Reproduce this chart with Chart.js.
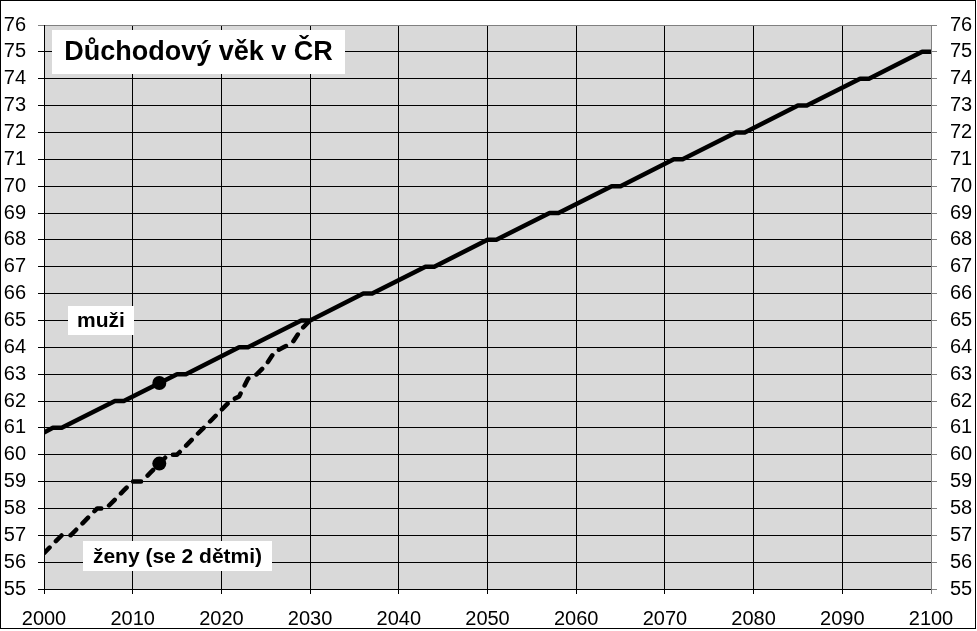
<!DOCTYPE html>
<html lang="cs">
<head>
<meta charset="UTF-8">
<title>Důchodový věk v ČR</title>
<script src="https://cdn.jsdelivr.net/npm/chart.js"></script>
<style>
  html, body { margin: 0; padding: 0; background: #fff; }
  #wrap { width: 977px; height: 631px; }
</style>
</head>
<body>
<div id="wrap"><canvas id="myChart" width="977" height="631"></canvas></div>
<script>
// muži - zlomové body (schody po 2 měsících, každý 7. rok beze změny)
const menYears = [2000, 2001, 2002, 2008, 2009, 2015, 2016, 2022, 2023, 2029, 2030,
                  2036, 2037, 2043, 2044, 2050, 2051, 2057, 2058, 2064, 2065,
                  2071, 2072, 2078, 2079, 2085, 2086, 2092, 2093, 2099, 2100];
const menAge = [60.83, 61, 61, 62, 62, 63, 63, 64, 64, 65, 65,
                66, 66, 67, 67, 68, 68, 69, 69, 70, 70,
                71, 71, 72, 72, 73, 73, 74, 74, 75, 75];

// ženy se 2 dětmi
const womenYears = [2000, 2001, 2002, 2003, 2004, 2005, 2006, 2007, 2008, 2009,
                    2010, 2011, 2012, 2013, 2014, 2015, 2016, 2017, 2018, 2019,
                    2020, 2021, 2022, 2023, 2024, 2025, 2026, 2027, 2028, 2029, 2030];
const womenAge = [56.33, 56.67, 57, 57, 57.33, 57.67, 58, 58, 58.33, 58.67,
                  59, 59, 59.33, 59.67, 60, 60, 60.33, 60.67, 61, 61.33,
                  61.67, 62, 62.17, 62.83, 63, 63.33, 63.83, 64, 64.17, 64.67, 65];

// rok 2013 - vyznačené body
const markerYears = [2013, 2013];
const markerAge = [62.67, 59.67];

const yearMin = 2000, yearMax = 2100, yearStep = 10;
const ageMin = 55, ageMax = 76;

const labelBoxes = [
  { text: 'Důchodový věk v ČR', dx: 8, dy: 5, w: 293, h: 44, size: 27 },
  { text: 'muži', dx: 24, dy: 281, w: 66, h: 29, size: 21 },
  { text: 'ženy (se 2 dětmi)', dx: 39, dy: 516, w: 189, h: 30, size: 21 }
];

const font = "'Liberation Sans', Arial, sans-serif";

const pozadi = {
  id: 'pozadi',
  beforeDraw(chart) {
    const { ctx, chartArea: a } = chart;
    ctx.save();
    ctx.fillStyle = '#fff';
    ctx.fillRect(0, 0, chart.width, chart.height);
    ctx.fillStyle = '#d9d9d9';
    ctx.fillRect(a.left, a.top, a.right - a.left, a.bottom - a.top);
    ctx.restore();
  },
  afterDraw(chart) {
    const { ctx, chartArea: a } = chart;
    ctx.save();
    labelBoxes.forEach(b => {
      const x = a.left + b.dx, y = a.top + b.dy;
      ctx.fillStyle = '#fff';
      ctx.fillRect(x, y, b.w, b.h);
      ctx.fillStyle = '#000';
      ctx.font = 'bold ' + b.size + 'px ' + font;
      ctx.textAlign = 'center';
      ctx.textBaseline = 'middle';
      ctx.fillText(b.text, x + b.w / 2, y + b.h / 2 + 1);
    });
    ctx.strokeStyle = '#000';
    ctx.lineWidth = 1;
    ctx.strokeRect(0.5, 0.5, 975, 628);
    ctx.restore();
  }
};

const ctx = document.getElementById('myChart').getContext('2d');
const myChart = new Chart(ctx, {
  type: 'line',
  data: {
    datasets: [
      {
        label: 'muži',
        data: menYears.map((r, i) => ({ x: r, y: menAge[i] })),
        borderColor: '#000',
        borderWidth: 4.5,
        borderJoinStyle: 'round',
        borderCapStyle: 'round',
        pointRadius: 0,
        tension: 0
      },
      {
        label: 'ženy (se 2 dětmi)',
        data: womenYears.map((r, i) => ({ x: r, y: womenAge[i] })),
        borderColor: '#000',
        borderWidth: 4.5,
        borderDash: [8, 9],
        borderCapStyle: 'round',
        borderJoinStyle: 'round',
        pointRadius: 0,
        tension: 0
      },
      {
        label: '2013',
        data: markerYears.map((r, i) => ({ x: r, y: markerAge[i] })),
        showLine: false,
        pointRadius: 7,
        pointBackgroundColor: '#000',
        pointBorderColor: '#000',
        pointBorderWidth: 0
      }
    ]
  },
  options: {
    responsive: false,
    animation: false,
    devicePixelRatio: 1,
    layout: { padding: { top: 24, left: 0, right: 0, bottom: 0 } },
    plugins: {
      legend: { display: false },
      tooltip: { enabled: false }
    },
    scales: {
      x: {
        type: 'linear',
        min: yearMin,
        max: yearMax,
        afterFit: s => { s.height = 42; },
        ticks: {
          stepSize: yearStep,
          autoSkip: false,
          maxRotation: 0,
          color: '#000',
          padding: 13,
          font: { family: font, size: 20 },
          callback: v => String(v)
        },
        grid: {
          color: c => (c.tick && c.tick.value === yearMax ? '#808080' : '#000'),
          lineWidth: 1,
          tickLength: 5
        },
        border: { color: '#000', width: 1 }
      },
      y: {
        position: 'left',
        min: ageMin,
        max: ageMax,
        afterFit: s => { s.width = 44; },
        ticks: {
          stepSize: 1,
          autoSkip: false,
          color: '#000',
          padding: 12,
          font: { family: font, size: 20 }
        },
        grid: {
          color: c => (c.tick && c.tick.value === ageMax ? '#808080' : '#000'),
          lineWidth: 1,
          tickLength: 6
        },
        border: { color: '#000', width: 1 }
      },
      y2: {
        position: 'right',
        min: ageMin,
        max: ageMax,
        afterFit: s => { s.width = 46; },
        ticks: {
          stepSize: 1,
          autoSkip: false,
          color: '#000',
          padding: 13,
          font: { family: font, size: 20 }
        },
        grid: {
          drawOnChartArea: false,
          color: '#808080',
          tickLength: 6
        },
        border: { color: '#808080', width: 1 }
      }
    }
  },
  plugins: [pozadi]
});
</script>
</body>
</html>
